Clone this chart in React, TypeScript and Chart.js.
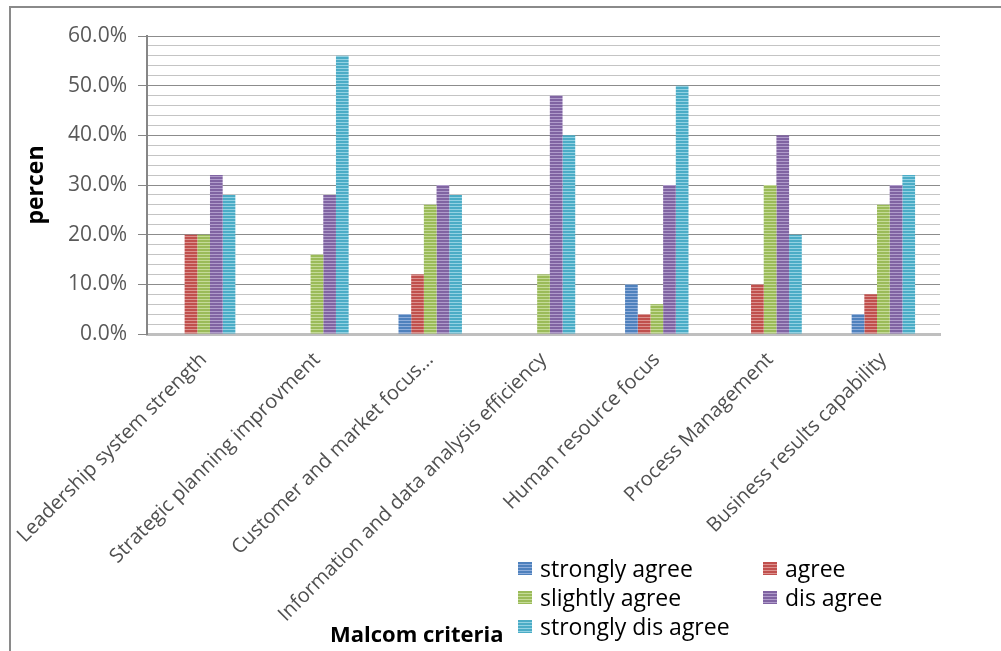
import React, { useEffect, useRef } from "react";
import { Chart, registerables } from "chart.js";

Chart.register(...registerables);

const categories = [
  "Leadership system strength",
  "Strategic planning improvment",
  "Customer and market focus...",
  "Information and data analysis efficiency",
  "Human resource focus",
  "Process Management",
  "Business results capability",
];
const seriesNames = ["strongly agree", "agree", "slightly agree", "dis agree", "strongly dis agree"];
const stronglyAgree = [0, 0, 4, 0, 10, 0, 4];
const agree = [20, 0, 12, 0, 4, 10, 8];
const slightlyAgree = [20, 16, 26, 12, 6, 30, 26];
const disAgree = [32, 28, 30, 48, 30, 40, 30];
const stronglyDisAgree = [28, 56, 28, 40, 50, 20, 32];
const seriesColors = ["#4F81BD", "#C0504D", "#9BBB59", "#8064A2", "#4BACC6"];
const stripeColors = ["#8FAEDB", "#DC928F", "#C5DB98", "#B09CCB", "#93D2E3"];
const yMin = 0;
const yMax = 60;
const yMinorStep = 2;
const yMajorStep = 10;
const yTitle = "percen";
const xTitle = "Malcom criteria";

const FONT = "'Open Sans', sans-serif";

function makePattern(base: string, stripe: string) {
  const c = document.createElement("canvas");
  c.width = 4;
  c.height = 3;
  const g = c.getContext("2d")!;
  g.fillStyle = base;
  g.fillRect(0, 0, 4, 3);
  g.fillStyle = stripe;
  g.fillRect(0, 2, 4, 1);
  return g.createPattern(c, "repeat")!;
}

export default function App() {
  const ref = useRef<HTMLCanvasElement | null>(null);

  useEffect(() => {
    const canvas = ref.current;
    if (!canvas) return;
    const seriesValues = [stronglyAgree, agree, slightlyAgree, disAgree, stronglyDisAgree];
    const chart = new Chart(canvas, {
      type: "bar",
      data: {
        labels: categories,
        datasets: seriesNames.map((name, i) => ({
          label: name,
          data: seriesValues[i],
          backgroundColor: makePattern(seriesColors[i], stripeColors[i]),
          borderWidth: 0,
          barPercentage: 1,
          categoryPercentage: 0.56,
        })),
      },
      options: {
        animation: false,
        responsive: false,
        layout: { padding: { left: 0, top: 36, right: 61, bottom: 0 } },
        plugins: { legend: { display: false }, tooltip: { enabled: false } },
        scales: {
          x: {
            grid: { display: false },
            border: { display: true, color: "#BFBFBF", width: 3 },
            ticks: {
              autoSkip: false,
              minRotation: 45,
              maxRotation: 45,
              padding: 6,
              color: "#505050",
              font: { family: FONT, size: 20 },
            },
            afterFit: (scale: any) => {
              scale.height = 651 - 334;
              scale.paddingLeft = 0;
              scale.paddingRight = 0;
            },
          },
          y: {
            min: yMin,
            max: yMax,
            border: { display: true, color: "#868686", width: 2 },
            grid: {
              color: (ctx: any) => {
                const v = Math.round(ctx.tick.value);
                if (v === 0) return "rgba(0,0,0,0)";
                return v % yMajorStep === 0 ? "#8C8C8C" : "#C4C4C4";
              },
              tickColor: (ctx: any) =>
                Math.round(ctx.tick.value) % yMajorStep === 0 ? "#868686" : "rgba(0,0,0,0)",
              tickLength: 9,
              lineWidth: 1,
            },
            ticks: {
              stepSize: yMinorStep,
              autoSkip: false,
              padding: 11,
              color: "#595959",
              font: { family: FONT, size: 21 },
              callback: (v: any) => {
                const n = Math.round(Number(v));
                return n % yMajorStep === 0 ? n.toFixed(1) + "%" : "";
              },
            },
            title: {
              display: true,
              text: yTitle,
              color: "#000000",
              font: { family: FONT, size: 23, weight: "bold" },
              padding: { top: 23, bottom: 0 },
            },
            afterFit: (scale: any) => {
              scale.width = 147;
              scale.paddingTop = 0;
              scale.paddingBottom = 0;
            },
          },
        },
      },
    } as any);
    return () => chart.destroy();
  }, []);

  const legendPos = [
    { left: 518, top: 556 },
    { left: 763, top: 556 },
    { left: 518, top: 585 },
    { left: 763, top: 585 },
    { left: 518, top: 614 },
  ];

  return (
    <div
      style={{
        position: "fixed",
        left: 0,
        top: 0,
        width: 1001,
        height: 651,
        background: "#ffffff",
        overflow: "hidden",
        fontFamily: FONT,
      }}
    >
      <div
        style={{
          position: "absolute",
          left: 9,
          top: 6,
          width: 1010,
          height: 700,
          border: "2px solid #8A8A8A",
          boxSizing: "border-box",
        }}
      />
      <canvas
        ref={ref}
        width={1001}
        height={651}
        style={{ position: "absolute", left: 0, top: 0, width: 1001, height: 651 }}
      />
      <div
        style={{
          position: "absolute",
          left: 330,
          top: 618,
          fontSize: 22,
          fontWeight: "bold",
          color: "#000",
          lineHeight: "30px",
          whiteSpace: "nowrap",
        }}
      >
        {xTitle}
      </div>
      {seriesNames.map((name, i) => (
        <div
          key={name}
          style={{
            position: "absolute",
            left: legendPos[i].left,
            top: legendPos[i].top,
            height: 24,
            display: "flex",
            alignItems: "center",
            whiteSpace: "nowrap",
          }}
        >
          <span
            style={{
              display: "inline-block",
              width: 14,
              height: 13,
              marginRight: 8,
              background: `repeating-linear-gradient(to bottom, ${seriesColors[i]} 0px, ${seriesColors[i]} 2px, ${stripeColors[i]} 2px, ${stripeColors[i]} 3px)`,
            }}
          />
          <span style={{ fontSize: 23, color: "#000", lineHeight: "24px" }}>{name}</span>
        </div>
      ))}
    </div>
  );
}
